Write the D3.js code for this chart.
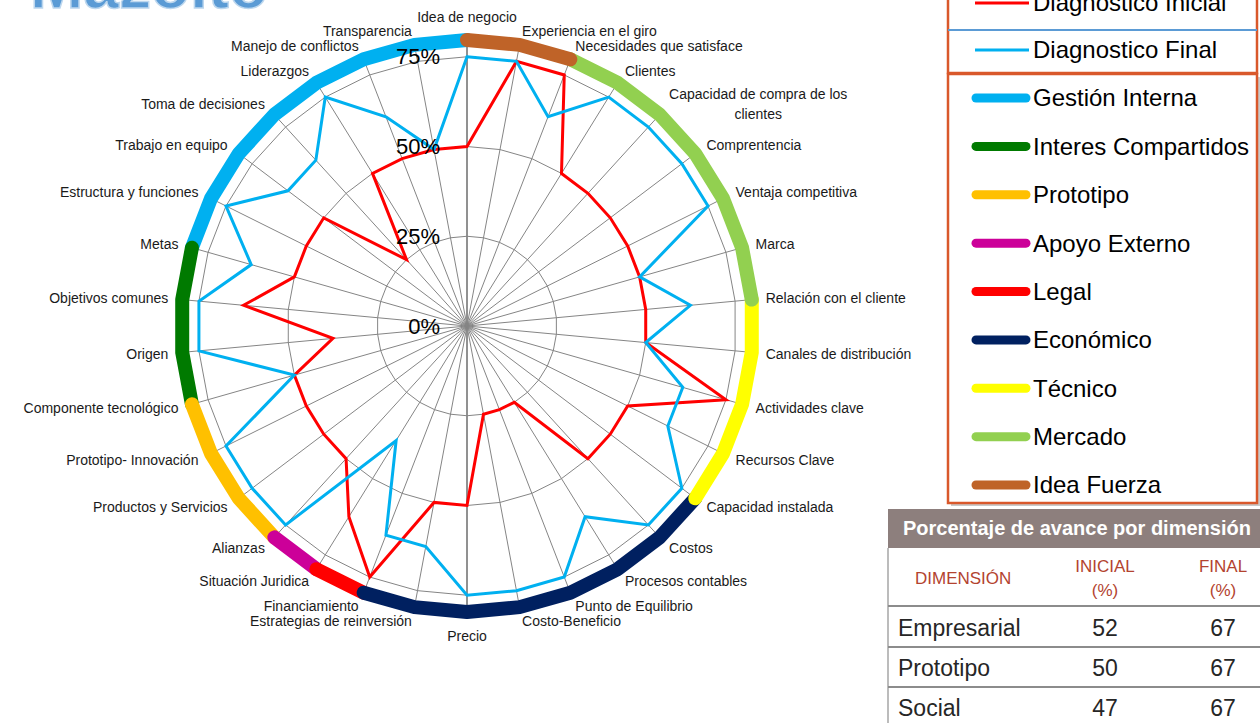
<!DOCTYPE html>
<html>
<head>
<meta charset="utf-8">
<script src="https://cdn.jsdelivr.net/npm/d3@7"></script>
<style>
  body { margin: 0; background: #fff; }
  svg { display: block; font-family: "Liberation Sans", Arial, sans-serif; }
</style>
</head>
<body>
<div class="svg-container"></div>
<script>
// axes of the radar, clockwise from the top
const categories = [
  'Idea de negocio', 'Experiencia en el giro', 'Necesidades que satisface', 'Clientes',
  'Capacidad de compra de los\nclientes', 'Comprentencia', 'Ventaja competitiva', 'Marca',
  'Relación con el cliente', 'Canales de distribución', 'Actividades clave', 'Recursos Clave',
  'Capacidad instalada', 'Costos', 'Procesos contables', 'Punto de Equilibrio',
  'Costo-Beneficio', 'Precio', 'Estrategias de reinversión', 'Financiamiento',
  'Situación Juridica', 'Alianzas', 'Productos y Servicios', 'Prototipo- Innovación',
  'Componente  tecnológico', 'Origen', 'Objetivos comunes', 'Metas',
  'Estructura y funciones', 'Trabajo en equipo', 'Toma de decisiones', 'Liderazgos',
  'Manejo de conflictos', 'Transparencia'
];

const inicial = [
  0.50, 0.75, 0.75, 0.50, 0.50, 0.50, 0.50, 0.50, 0.50, 0.50, 0.75, 0.50,
  0.50, 0.50, 0.25, 0.25, 0.25, 0.50, 0.50, 0.75, 0.625, 0.50, 0.50, 0.50,
  0.50, 0.375, 0.625, 0.50, 0.50, 0.50, 0.25, 0.50, 0.50, 0.50
];

const final = [
  0.75, 0.75, 0.625, 0.75, 0.75, 0.75, 0.75, 0.50, 0.625, 0.50, 0.625, 0.625,
  0.75, 0.75, 0.625, 0.75, 0.75, 0.75, 0.625, 0.625, 0.375, 0.75, 0.75, 0.75,
  0.50, 0.75, 0.75, 0.625, 0.75, 0.625, 0.625, 0.75, 0.625, 0.50
];

const radialTicks = [0, 0.25, 0.5, 0.75];
const tickLabels = ['0%', '25%', '50%', '75%'];

const seriesNames = ['Diagnostico Inicial', 'Diagnostico Final'];
const seriesColors = ['#FF0000', '#00B0F0'];

// dimension ring: name, colour and the axis span it covers
const dimensions = ['Gestión Interna', 'Interes Compartidos', 'Prototipo', 'Apoyo Externo',
  'Legal', 'Económico', 'Técnico', 'Mercado', 'Idea Fuerza'];
const dimColors = ['#00B0F0', '#007A00', '#FFC000', '#CC0099',
  '#FF0000', '#002060', '#FFFF00', '#92D050', '#BF6328'];
const dimFrom = [27, 24, 21, 20, 19, 12, 8, 2, 0];
const dimTo = [34, 27, 24, 21, 20, 19, 12, 8, 2];

// summary table
const tableTitle = 'Porcentaje de avance por dimensión';
const tableHead = ['DIMENSIÓN', 'INICIAL\n(%)', 'FINAL\n(%)'];
const tableRows = ['Empresarial', 'Prototipo', 'Social'];
const tableInicial = [52, 50, 47];
const tableFinal = [67, 67, 67];

const chartTitle = 'Mazolto';

function render() {
  const width = 1260;
  const height = 723;
  const cx = 467;
  const cy = 326;

  const svg = d3.select('.svg-container')
    .append('svg')
    .attr('width', width)
    .attr('height', height);

  // big cut-off title at the top-left
  svg.append('text')
    .attr('x', 30)
    .attr('y', 8)
    .attr('font-size', 64)
    .attr('font-weight', 'bold')
    .attr('fill', '#5B9BD5')
    .attr('stroke', '#BDD7EE')
    .attr('stroke-width', 1.5)
    .text(chartTitle);

  const r = d3.scaleLinear().domain([0, 0.78]).range([0, 280]);
  const angle = d3.scaleLinear().domain([0, categories.length]).range([0, 2 * Math.PI]);
  const pt = (i, rad) => [rad * Math.sin(angle(i)), -rad * Math.cos(angle(i))];

  const g = svg.append('g').attr('transform', `translate(${cx},${cy})`);

  // polygon gridlines
  radialTicks.filter(t => t > 0).forEach(t => {
    const grid = d3.lineRadial()
      .angle((d, i) => angle(i))
      .radius(r(t))
      .curve(d3.curveLinearClosed);
    g.append('path')
      .attr('d', grid(categories))
      .attr('fill', 'none')
      .attr('stroke', '#858585')
      .attr('stroke-width', 1);
  });

  // spokes
  g.selectAll('.spoke')
    .data(categories)
    .enter()
    .append('line')
    .attr('class', 'spoke')
    .attr('x1', 0)
    .attr('y1', 0)
    .attr('x2', (d, i) => pt(i, r.range()[1])[0])
    .attr('y2', (d, i) => pt(i, r.range()[1])[1])
    .attr('stroke', '#858585')
    .attr('stroke-width', (d, i) => i === 0 || i === 17 ? 1.8 : 1);

  // dimension ring, drawn in legend order so later pieces sit on top
  const ringR = 286;
  dimensions.forEach((name, k) => {
    const ring = d3.lineRadial()
      .angle(d => angle(d))
      .radius(ringR);
    g.append('path')
      .attr('d', ring(d3.range(dimFrom[k], dimTo[k] + 1)))
      .attr('fill', 'none')
      .attr('stroke', dimColors[k])
      .attr('stroke-width', 14)
      .attr('stroke-linecap', 'round')
      .attr('stroke-linejoin', 'round');
  });

  // series
  [inicial, final].forEach((values, s) => {
    const line = d3.lineRadial()
      .angle((d, i) => angle(i))
      .radius(d => r(d))
      .curve(d3.curveLinearClosed);
    g.append('path')
      .attr('d', line(values))
      .attr('fill', 'none')
      .attr('stroke', seriesColors[s])
      .attr('stroke-width', 3)
      .attr('stroke-linejoin', 'miter');
  });

  // radial tick labels
  g.selectAll('.tick-label')
    .data(radialTicks)
    .enter()
    .append('text')
    .attr('class', 'tick-label')
    .attr('x', -27)
    .attr('y', d => -r(d))
    .attr('dy', '0.35em')
    .attr('text-anchor', 'end')
    .attr('font-size', 22)
    .attr('fill', '#000')
    .text((d, i) => tickLabels[i]);

  // category labels
  categories.forEach((name, i) => {
    const a = angle(i);
    const [x, y0] = pt(i, 300);
    const sn = Math.sin(a);
    let anchor = sn > 0.01 ? 'start' : (sn < -0.01 ? 'end' : 'middle');
    let y = y0;
    if (anchor === 'middle') y += Math.cos(a) > 0 ? -9 : 10;
    const lines = name.split('\n');
    const t = g.append('text')
      .attr('font-size', 14)
      .attr('fill', '#1a1a1a')
      .attr('text-anchor', lines.length > 1 ? 'middle' : anchor);
    lines.forEach((ln, j) => {
      t.append('tspan')
        .attr('x', x)
        .attr('y', y + (j - (lines.length - 1) / 2) * 20)
        .attr('dy', '0.35em')
        .text(ln);
    });
    if (lines.length > 1) {
      const w = t.node().getBBox().width;
      t.selectAll('tspan').attr('x', x + w / 2);
    }
  });

  // legend: series box
  const lg = svg.append('g');
  lg.append('rect')
    .attr('x', 948).attr('y', -20).attr('width', 309).attr('height', 93)
    .attr('fill', '#fff').attr('stroke', '#D9582B').attr('stroke-width', 2.5);
  lg.append('line')
    .attr('x1', 948).attr('x2', 1257).attr('y1', 30).attr('y2', 30)
    .attr('stroke', '#5B9BD5').attr('stroke-width', 2);
  const seriesY = [3, 50];
  seriesNames.forEach((name, s) => {
    lg.append('line')
      .attr('x1', 975).attr('x2', 1029).attr('y1', seriesY[s]).attr('y2', seriesY[s])
      .attr('stroke', seriesColors[s]).attr('stroke-width', 3);
    lg.append('text')
      .attr('x', 1033).attr('y', seriesY[s]).attr('dy', '0.35em')
      .attr('font-size', 24).attr('fill', '#000')
      .text(name);
  });

  // legend: dimension box with shadow
  lg.append('rect')
    .attr('x', 951).attr('y', 77).attr('width', 309).attr('height', 429)
    .attr('fill', '#C9C9C9');
  lg.append('rect')
    .attr('x', 948).attr('y', 74).attr('width', 309).attr('height', 429)
    .attr('fill', '#fff').attr('stroke', '#D9582B').attr('stroke-width', 2.5);
  const dimY = d3.scaleLinear().domain([0, dimensions.length - 1]).range([98, 485]);
  dimensions.forEach((name, k) => {
    lg.append('line')
      .attr('x1', 976).attr('x2', 1026).attr('y1', dimY(k)).attr('y2', dimY(k))
      .attr('stroke', dimColors[k]).attr('stroke-width', 9)
      .attr('stroke-linecap', 'round');
    lg.append('text')
      .attr('x', 1033).attr('y', dimY(k)).attr('dy', '0.35em')
      .attr('font-size', 24).attr('fill', '#000')
      .text(name);
  });

  // table
  const tb = svg.append('g');
  tb.append('rect')
    .attr('x', 888).attr('y', 509).attr('width', 380).attr('height', 39)
    .attr('fill', '#8D7F7D');
  tb.append('text')
    .attr('x', 903).attr('y', 535)
    .attr('font-size', 20).attr('font-weight', 'bold').attr('fill', '#fff')
    .text(tableTitle);
  tb.append('line')
    .attr('x1', 888).attr('x2', 888).attr('y1', 548).attr('y2', 723)
    .attr('stroke', '#A6A6A6').attr('stroke-width', 1.5);
  [606, 647, 687].forEach(y => {
    tb.append('line')
      .attr('x1', 888).attr('x2', 1260).attr('y1', y).attr('y2', y)
      .attr('stroke', '#8C8C8C').attr('stroke-width', 2);
  });
  const colX = [915, 1105, 1223];
  tableHead.forEach((h, c) => {
    const lines = h.split('\n');
    const t = tb.append('text')
      .attr('font-size', 17).attr('fill', '#B3432F')
      .attr('text-anchor', c === 0 ? 'start' : 'middle');
    lines.forEach((ln, j) => {
      t.append('tspan')
        .attr('x', colX[c])
        .attr('y', 578 + (j - (lines.length - 1) / 2) * 24)
        .attr('dy', '0.35em')
        .text(ln);
    });
  });
  const rowY = d3.scaleLinear().domain([0, tableRows.length - 1]).range([628, 708]);
  tableRows.forEach((name, k) => {
    tb.append('text')
      .attr('x', 898).attr('y', rowY(k)).attr('dy', '0.35em')
      .attr('font-size', 23).attr('fill', '#262626')
      .text(name);
    tb.append('text')
      .attr('x', colX[1]).attr('y', rowY(k)).attr('dy', '0.35em')
      .attr('text-anchor', 'middle')
      .attr('font-size', 23).attr('fill', '#262626')
      .text(tableInicial[k]);
    tb.append('text')
      .attr('x', colX[2]).attr('y', rowY(k)).attr('dy', '0.35em')
      .attr('text-anchor', 'middle')
      .attr('font-size', 23).attr('fill', '#262626')
      .text(tableFinal[k]);
  });
}

render();
</script>
</body>
</html>
